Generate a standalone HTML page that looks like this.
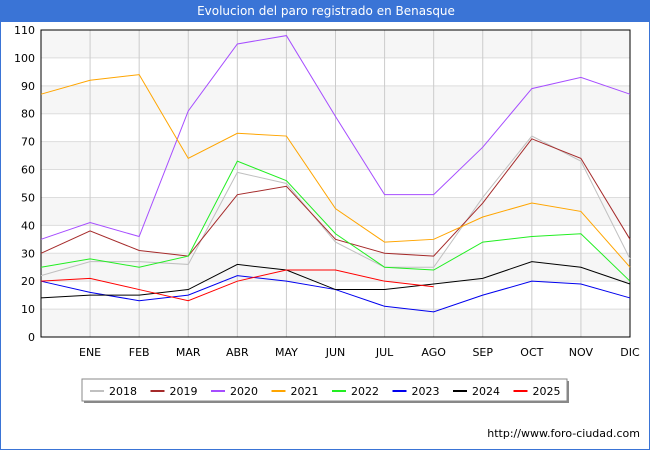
<!DOCTYPE html>
<html><head><meta charset="utf-8"><style>
body{margin:0;background:#fff;font-family:"DejaVu Sans","Liberation Sans",sans-serif}
#wrap{position:relative;width:650px;height:450px;box-sizing:border-box;border:1px solid #3a74d6;border-top:none}
#title{position:absolute;left:0;top:0;width:650px;height:22px;background:#3a74d6;color:#fff;font-size:12px;text-align:center;line-height:22px}
svg text{font-family:"DejaVu Sans","Liberation Sans",sans-serif;font-size:11px;fill:#000}
</style></head><body>
<div id="wrap">
<div id="title">Evolucion del paro registrado en Benasque</div>
<svg id="chart" width="650" height="450" style="position:absolute;left:-1px;top:0"></svg>
</div>
<script>
const categories=["","ENE","FEB","MAR","ABR","MAY","JUN","JUL","AGO","SEP","OCT","NOV","DIC"];
const yTicks=[0,10,20,30,40,50,60,70,80,90,100,110];
const seriesNames=["2018","2019","2020","2021","2022","2023","2024","2025"];
const seriesColors=["#c0c0c0","#a52a2a","#a64dff","#ffa500","#22ee22","#0000ee","#000000","#ff0000"];
const s2018=[22,27,27,26,59,55,34,25,25,50,72,63,28];
const s2019=[30,38,31,29,51,54,35,30,29,48,71,64,35];
const s2020=[35,41,36,81,105,108,79,51,51,68,89,93,87];
const s2021=[87,92,94,64,73,72,46,34,35,43,48,45,25];
const s2022=[25,28,25,29,63,56,37,25,24,34,36,37,20];
const s2023=[20,16,13,15,22,20,17,11,9,15,20,19,14];
const s2024=[14,15,15,17,26,24,17,17,19,21,27,25,19];
const s2025=[20,21,17,13,20,24,24,20,18];
const allSeries=[s2018,s2019,s2020,s2021,s2022,s2023,s2024,s2025];
const NS="http://www.w3.org/2000/svg";
const svg=document.getElementById('chart');
const L=41,R=630,T=30,B=337,YMAX=110;
const x=i=>L+i*(R-L)/(categories.length-1);
const y=v=>B-v*(B-T)/YMAX;
function mk(tag,attrs,parent){const e=document.createElementNS(NS,tag);for(const k in attrs)e.setAttribute(k,attrs[k]);(parent||svg).appendChild(e);return e;}
for(let i=0;i<yTicks.length-1;i++){
  if(i%2===0){const b=mk('rect',{x:L,y:y(yTicks[i+1]),width:R-L,height:y(yTicks[i])-y(yTicks[i+1]),fill:'#f6f6f6'});
  
  }
}
yTicks.forEach(t=>{
  const g=mk('line',{x1:L,x2:R,y1:y(t),y2:y(t),stroke:'#dddddd','stroke-width':1});
  
  
  const tx=mk('text',{x:L-6,y:y(t)+4,'text-anchor':'end'});tx.textContent=t;
  
  
});
categories.forEach((c,i)=>{
  const g=mk('line',{x1:x(i),x2:x(i),y1:T,y2:B,stroke:'#cccccc','stroke-width':1});
  
  
  if(c){const tx=mk('text',{x:x(i),y:B+19,'text-anchor':'middle'});tx.textContent=c;
  
  }
});
const fr=mk('rect',{x:L,y:T,width:R-L,height:B-T,fill:'none',stroke:'#000','stroke-width':1});


allSeries.forEach((s,k)=>{
  const p=mk('polyline',{points:s.map((v,i)=>x(i)+','+y(v)).join(' '),fill:'none',stroke:seriesColors[k],'stroke-width':1});
  
  
});
const lg=mk('g',{});


mk('rect',{x:84,y:381,width:485,height:22,fill:'#888'},lg);
mk('rect',{x:82,y:379,width:485,height:22,fill:'#fff',stroke:'#888'},lg);
seriesNames.forEach((n,k)=>{
  const lx=90+k*60.5;
  const e=mk('g',{},lg);
  
  
  mk('line',{x1:lx,x2:lx+14,y1:391,y2:391,stroke:seriesColors[k],'stroke-width':2},e);
  const t=mk('text',{x:lx+19,y:395},e);t.textContent=n;
});
const src=mk('text',{x:640,y:437,'text-anchor':'end','font-size':'10'});
src.textContent='http://www.foro-ciudad.com';


</script>
</body></html>
